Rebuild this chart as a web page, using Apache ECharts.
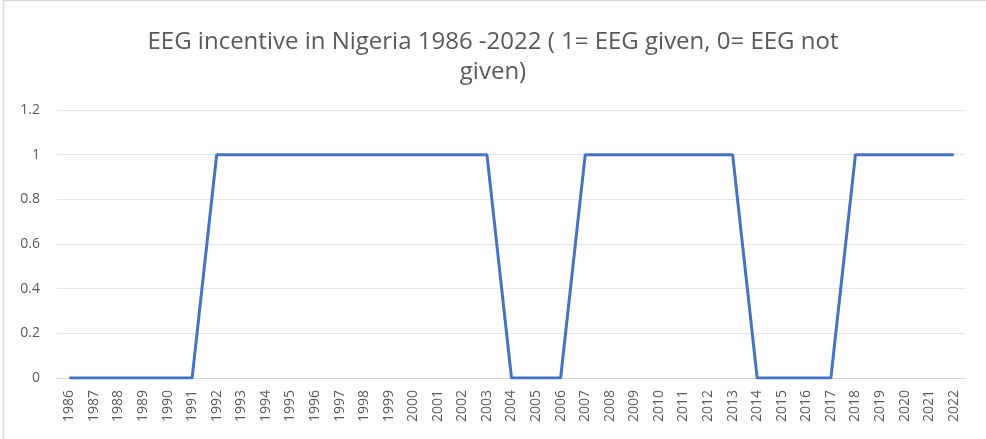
<!DOCTYPE html>
<html>
<head>
<meta charset="utf-8">
<script src="https://cdn.jsdelivr.net/npm/echarts@6/dist/echarts.min.js"></script>
<style>
  html, body { margin: 0; padding: 0; background: #fff; }
  #eeg_chart { width: 986px; height: 439px; }
</style>
</head>
<body>
<div id="eeg_chart"></div>
<script>
// years on the x axis
var years = ['1986','1987','1988','1989','1990','1991','1992','1993','1994','1995',
	'1996','1997','1998','1999','2000','2001','2002','2003','2004','2005','2006','2007',
	'2008','2009','2010','2011','2012','2013','2014','2015','2016','2017','2018','2019',
	'2020','2021','2022'];

// 1 = EEG given, 0 = EEG not given
var eegGiven = [0,0,0,0,0,0,1,1,1,1,1,1,1,1,1,1,1,1,0,0,0,1,1,1,1,1,1,1,0,0,0,0,1,1,1,1,1];

var chartTitle = 'EEG incentive in Nigeria 1986 -2022 ( 1= EEG given, 0= EEG not\ngiven)';

var chart = echarts.init(document.getElementById('eeg_chart'));
var option = {
	animation : false,
	title : {
		text : chartTitle,
		left : 'center',
		top : 22,
		textStyle : {
			fontFamily : 'Open Sans',
			fontSize : 24,
			fontWeight : 'normal',
			color : '#595959',
			lineHeight : 30
		}
	},
	graphic : [ {
		type : 'rect',
		shape : { x : 3.5, y : 0.5, width : 990, height : 445 },
		style : { fill : 'none', stroke : '#d9d9d9', lineWidth : 1.5 },
		silent : true
	} ],
	grid : {
		left : 57,
		right : 20,
		top : 110,
		bottom : 61
	},
	xAxis : {
		type : 'category',
		data : years,
		boundaryGap : true,
		axisLine : { lineStyle : { color : '#d9d9d9' } },
		axisTick : { show : false },
		axisLabel : {
			rotate : 90,
			interval : 0,
			fontFamily : 'Open Sans',
			fontSize : 14,
			color : '#595959',
			margin : 12
		}
	},
	yAxis : {
		type : 'value',
		min : 0,
		max : 1.2,
		interval : 0.2,
		axisLine : { show : false },
		axisTick : { show : false },
		splitLine : { lineStyle : { color : '#e6e6e6' } },
		axisLabel : {
			fontFamily : 'Open Sans',
			fontSize : 14,
			color : '#595959',
			margin : 17,
			formatter : function(v) { return String(Math.round(v * 10) / 10); }
		}
	},
	series : [ {
		name : 'EEG',
		type : 'line',
		data : eegGiven,
		showSymbol : false,
		lineStyle : { color : '#4472c4', width : 3 },
		itemStyle : { color : '#4472c4' }
	} ]
};
chart.setOption(option);
</script>
</body>
</html>
